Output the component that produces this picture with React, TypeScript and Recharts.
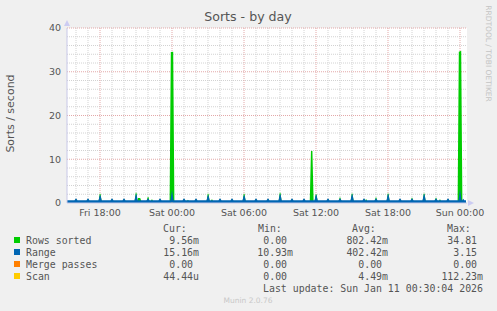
import React from 'react';
import { AreaChart, Area, XAxis, YAxis, CartesianGrid } from 'recharts';

// ---- axis / grid values ----
const X_TICKS = [18, 24, 30, 36, 42, 48];
const X_TICK_LABELS = ['Fri 18:00', 'Sat 00:00', 'Sat 06:00', 'Sat 12:00', 'Sat 18:00', 'Sun 00:00'];
const Y_TICKS = [0, 10, 20, 30, 40];
const HOURS_MINOR = [16, 17, 19, 20, 21, 22, 23, 25, 26, 27, 28, 29, 31, 32, 33, 34, 35, 37, 38, 39, 40, 41, 43, 44, 45, 46, 47];
const HOURS_MAJOR = [18, 24, 30, 36, 42, 48];
const Y_MINOR = [2, 4, 6, 8, 12, 14, 16, 18, 22, 24, 26, 28, 32, 34, 36, 38];
const Y_MAJOR = [10, 20, 30, 40];
const X_DOMAIN: [number, number] = [15.25, 48.583];

// ---- series: [hour since Fri 00:00, sorts/second] ----
const rowsSorted: [number, number][] = [
  [15.25, 0.4],
  [15.88, 0.4], [16, 0.95], [16.12, 0.4],
  [16.88, 0.4], [17, 0.95], [17.12, 0.4],
  [17.88, 0.4], [17.98, 2.1], [18.04, 2.1], [18.14, 0.4],
  [18.88, 0.4], [19, 0.95], [19.12, 0.4],
  [19.88, 0.4], [20, 0.95], [20.12, 0.4],
  [20.88, 0.4], [20.98, 2.35], [21.04, 2.35], [21.12, 0.4], [21.17, 1.15], [21.35, 1.15], [21.45, 0.4],
  [21.88, 0.4], [21.98, 1.35], [22.04, 1.35], [22.12, 0.4], [22.24, 0.4], [22.33, 0.9], [22.42, 0.4],
  [22.88, 0.4], [23, 0.95], [23.12, 0.4],
  [23.8, 0.4], [23.9, 34.5], [24.1, 34.6], [24.2, 0.4],
  [24.88, 0.4], [25, 0.95], [25.12, 0.4], [25.24, 0.4], [25.33, 0.75], [25.42, 0.4],
  [25.88, 0.4], [26, 0.95], [26.12, 0.4],
  [26.88, 0.4], [26.98, 2.1], [27.04, 2.1], [27.14, 0.4], [27.24, 0.4], [27.33, 0.9], [27.42, 0.4],
  [27.88, 0.4], [28, 0.95], [28.12, 0.4],
  [28.88, 0.4], [29, 0.95], [29.12, 0.4],
  [29.88, 0.4], [29.98, 2.1], [30.04, 2.1], [30.14, 0.4],
  [30.88, 0.4], [31, 0.95], [31.12, 0.4],
  [31.88, 0.4], [32, 0.95], [32.12, 0.4],
  [32.88, 0.4], [32.98, 2.35], [33.04, 2.35], [33.14, 0.4],
  [33.88, 0.4], [34, 0.95], [34.12, 0.4],
  [34.88, 0.4], [35, 0.95], [35.12, 0.4],
  [35.48, 0.4], [35.58, 11.9], [35.7, 11.9], [35.8, 0.4],
  [35.88, 0.4], [35.98, 2.0], [36.04, 2.0], [36.14, 0.4],
  [36.88, 0.4], [37, 0.95], [37.12, 0.4],
  [37.88, 0.4], [38, 1.45], [38.12, 0.4],
  [38.88, 0.4], [38.98, 2.2], [39.04, 2.2], [39.14, 0.4],
  [39.88, 0.4], [40, 0.95], [40.1, 0.4], [40.17, 0.95], [40.27, 0.4],
  [40.88, 0.4], [41, 1.45], [41.12, 0.4],
  [41.88, 0.4], [41.98, 2.2], [42.04, 2.2], [42.14, 0.4],
  [42.88, 0.4], [43, 0.95], [43.12, 0.4],
  [43.88, 0.4], [44, 1.3], [44.12, 0.4],
  [44.88, 0.4], [44.98, 2.2], [45.04, 2.2], [45.14, 0.4],
  [45.88, 0.4], [46, 1.3], [46.12, 0.4], [46.24, 0.4], [46.33, 0.9], [46.42, 0.4],
  [46.88, 0.4], [47, 0.95], [47.12, 0.4],
  [47.8, 0.4], [47.9, 34.6], [48.1, 34.81], [48.2, 0.4],
  [48.5, 0.4],
];

const range: [number, number][] = [
  [15.25, 0.65],
  [15.88, 0.65], [16, 1.1], [16.12, 0.65],
  [16.88, 0.65], [17, 1.1], [17.12, 0.65],
  [17.88, 0.65], [17.98, 1.8], [18.04, 1.8], [18.14, 0.65],
  [18.88, 0.65], [19, 1.1], [19.12, 0.65],
  [19.88, 0.65], [20, 1.1], [20.12, 0.65],
  [20.88, 0.65], [20.98, 2.0], [21.04, 2.0], [21.14, 0.65],
  [21.88, 0.65], [22, 1.1], [22.12, 0.65],
  [22.88, 0.65], [23, 1.1], [23.12, 0.65],
  [23.88, 0.65], [24, 3.0], [24.12, 0.65],
  [24.88, 0.65], [25, 1.1], [25.12, 0.65],
  [25.88, 0.65], [26, 1.1], [26.12, 0.65],
  [26.88, 0.65], [26.98, 1.8], [27.04, 1.8], [27.14, 0.65],
  [27.88, 0.65], [28, 1.1], [28.12, 0.65],
  [28.88, 0.65], [29, 1.1], [29.12, 0.65],
  [29.88, 0.65], [29.98, 1.8], [30.04, 1.8], [30.14, 0.65],
  [30.88, 0.65], [31, 1.1], [31.12, 0.65],
  [31.88, 0.65], [32, 1.1], [32.12, 0.65],
  [32.88, 0.65], [32.98, 2.0], [33.04, 2.0], [33.14, 0.65],
  [33.88, 0.65], [34, 1.1], [34.12, 0.65],
  [34.88, 0.65], [35, 1.1], [35.12, 0.65],
  [35.88, 0.65], [35.98, 1.9], [36.04, 1.9], [36.14, 0.65],
  [36.88, 0.65], [37, 1.1], [37.12, 0.65],
  [37.88, 0.65], [38, 1.1], [38.12, 0.65],
  [38.88, 0.65], [38.98, 2.0], [39.04, 2.0], [39.14, 0.65],
  [39.88, 0.65], [40, 1.1], [40.12, 0.65],
  [40.88, 0.65], [41, 1.1], [41.12, 0.65],
  [41.88, 0.65], [41.98, 2.0], [42.04, 2.0], [42.14, 0.65],
  [42.88, 0.65], [43, 1.1], [43.12, 0.65],
  [43.88, 0.65], [44, 1.1], [44.12, 0.65],
  [44.88, 0.65], [44.98, 2.0], [45.04, 2.0], [45.14, 0.65],
  [45.88, 0.65], [46, 1.1], [46.12, 0.65],
  [46.88, 0.65], [47, 1.1], [47.12, 0.65],
  [47.88, 0.65], [48, 3.15], [48.12, 0.65], [48.18, 0.65], [48.27, 1.0], [48.36, 0.65],
  [48.5, 0.65],
];

const mergePasses: [number, number][] = [
  [15.25, 0], [48.5, 0],
];

const scan: [number, number][] = [
  [15.25, 0], [23.92, 0], [24, 0.11], [24.08, 0], [48.5, 0],
];

// ---- legend ----
const LEGEND_NAMES = ['Rows sorted', 'Range', 'Merge passes', 'Scan'];
const LEGEND_COLORS = ['#00CC00', '#0066B3', '#FF8000', '#FFCC00'];
const CUR = ['9.56m', '15.16m', '0.00', '44.44u'];
const MIN = ['0.00', '10.93m', '0.00', '0.00'];
const AVG = ['802.42m', '402.42m', '0.00', '4.49m'];
const MAX = ['34.81', '3.15', '0.00', '112.23m'];
const LAST_UPDATE = 'Last update: Sun Jan 11 00:30:04 2026';

const toRows = (pts: [number, number][]) => pts.map(([t, v]) => ({ t, v }));

const SANS = 'DejaVu Sans, sans-serif';
const MONO = 'DejaVu Sans Mono, monospace';
const TXT = '#555555';

export default function App() {
  const colRight = [199, 293, 388, 483];
  const colHeadX = [163, 258, 352, 447];
  const heads = ['Cur:', 'Min:', 'Avg:', 'Max:'];
  const cols = [CUR, MIN, AVG, MAX];
  const rowY = [240, 252, 264, 276];
  const charW = 5.96;
  const valX = (s: string, right: number) => (/[a-z]$/i.test(s) ? right : right - charW);

  return (
    <div style={{ position: 'absolute', left: 0, top: 0, width: 497, height: 311, background: '#F0F0F0', overflow: 'hidden' }}>
      <AreaChart width={497} height={311} margin={{ top: 28, right: 30, bottom: 88, left: 27 }}>
        <CartesianGrid fill="#FFFFFF" stroke="#d2d2d2" strokeDasharray="1 1" verticalValues={HOURS_MINOR} horizontalValues={Y_MINOR} />
        <CartesianGrid fill="none" fillOpacity={0} stroke="#e3a8a8" strokeDasharray="1 1" verticalValues={HOURS_MAJOR} horizontalValues={Y_MAJOR} />
        <XAxis
          type="number"
          dataKey="t"
          domain={X_DOMAIN}
          allowDataOverflow
          ticks={X_TICKS}
          interval={0}
          tickFormatter={(v: number) => X_TICK_LABELS[X_TICKS.indexOf(v)] ?? ''}
          height={20}
          tickLine={false}
          tickSize={0}
          tickMargin={6}
          axisLine={{ stroke: '#c8c8e8' }}
          tick={{ fontSize: 9.5, fill: TXT, fontFamily: SANS }}
        />
        <YAxis
          type="number"
          domain={[0, 40]}
          ticks={Y_TICKS}
          interval={0}
          width={40}
          tickLine={false}
          tickSize={0}
          tickMargin={6}
          axisLine={{ stroke: '#c8c8e8' }}
          tick={{ fontSize: 9.5, fill: TXT, fontFamily: SANS }}
        />
        <Area data={toRows(rowsSorted)} dataKey="v" type="linear" fill="#00CC00" fillOpacity={1} stroke="none" isAnimationActive={false} />
        <Area data={toRows(range)} dataKey="v" type="linear" fill="#0066B3" fillOpacity={1} stroke="none" isAnimationActive={false} />
        <Area data={toRows(mergePasses)} dataKey="v" type="linear" fill="#FF8000" fillOpacity={1} stroke="none" isAnimationActive={false} />
        <Area data={toRows(scan)} dataKey="v" type="linear" fill="#FFCC00" fillOpacity={1} stroke="none" isAnimationActive={false} />
      </AreaChart>
      <svg width={497} height={311} style={{ position: 'absolute', left: 0, top: 0, pointerEvents: 'none' }}>
        <text x={248} y={21} textAnchor="middle" fontFamily={SANS} fontSize={12.6} fill={TXT}>Sorts - by day</text>
        <text transform="translate(10.5,113.5) rotate(-90)" textAnchor="middle" dominantBaseline="central" fontFamily={SANS} fontSize={11} fill={TXT}>Sorts / second</text>
        <text transform="translate(488,53.5) rotate(90)" textAnchor="middle" dominantBaseline="central" fontFamily={SANS} fontSize={7.5} fill="#c4c4c4">RRDTOOL / TOBI OETIKER</text>
        <polygon points="64,26 70,26 67,20" fill="#ccccf2" />
        <polygon points="468,200 468,206 474,203" fill="#ccccf2" />
        {heads.map((h, i) => (
          <text key={h} x={colHeadX[i]} y={228} dominantBaseline="central" fontFamily={MONO} fontSize={9.9} fill={TXT}>{h}</text>
        ))}
        {LEGEND_NAMES.map((n, r) => (
          <g key={n}>
            <rect x={14} y={rowY[r] - 3} width={6} height={6} fill={LEGEND_COLORS[r]} />
            <text x={26} y={rowY[r]} dominantBaseline="central" fontFamily={MONO} fontSize={9.9} fill={TXT}>{n}</text>
            {cols.map((col, c) => (
              <text key={c} x={valX(col[r], colRight[c])} y={rowY[r]} textAnchor="end" dominantBaseline="central" fontFamily={MONO} fontSize={9.9} fill={TXT}>{col[r]}</text>
            ))}
          </g>
        ))}
        <text x={483} y={288} textAnchor="end" dominantBaseline="central" fontFamily={MONO} fontSize={9.9} fill={TXT}>{LAST_UPDATE}</text>
        <text x={248} y={300} textAnchor="middle" dominantBaseline="central" fontFamily={SANS} fontSize={7.5} fill="#c8c8c8">Munin 2.0.76</text>
      </svg>
    </div>
  );
}
